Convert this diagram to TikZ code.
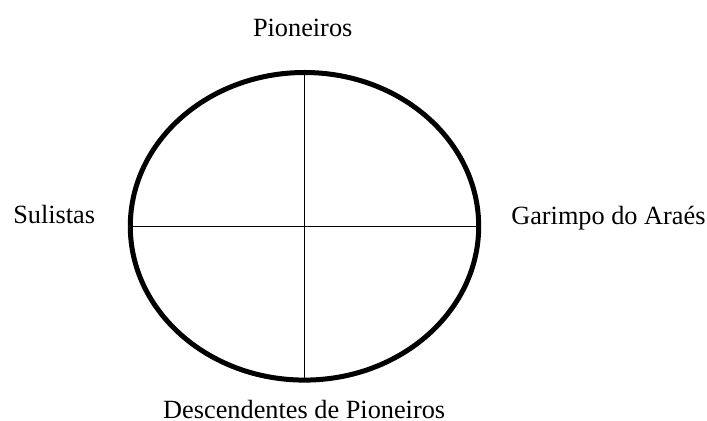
\documentclass[tikz,border=0pt]{standalone}
\usepackage{fontspec}
\setmainfont{Liberation Serif}
\begin{document}
\begin{tikzpicture}[x=0.5pt,y=-0.5pt,
  lbl/.style={inner sep=0pt,anchor=base,font=\fontsize{13.15pt}{15pt}\selectfont},
  rim/.style={line width=2.5pt},
  cross/.style={line width=0.75pt}]
\useasboundingbox (0,0) rectangle (707,421);
\coordinate (c) at (304.5,226.3);
\coordinate (t) at (304.5,72.5);
\coordinate (b) at (304.5,380.2);
\coordinate (l) at (130.3,226.3);
\coordinate (r) at (478.7,226.3);
\draw[cross] (t) -- (b);
\draw[cross] (l) -- (r);
\draw[rim] (c) ellipse [x radius=174.2, y radius=153.8];
\node[lbl] (p) at (302.7,36.7) {Pioneiros};
\node[lbl] (s) at (54.2,223.3) {Sulistas};
\node[lbl] (g) at (608.4,224.3) {Garimpo do Araés};
\node[lbl] (d) at (304.2,418.3) {Descendentes de Pioneiros};
\end{tikzpicture}
\end{document}
